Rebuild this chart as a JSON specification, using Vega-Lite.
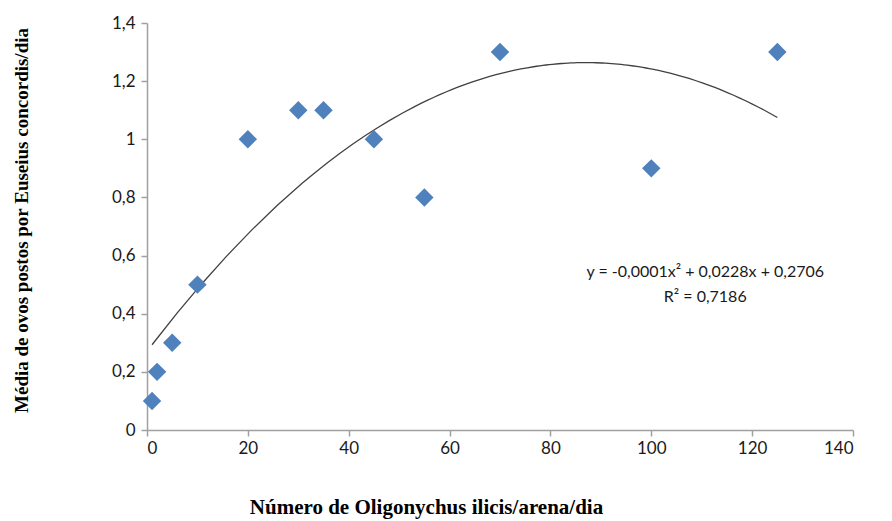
{
  "$schema": "https://vega.github.io/schema/vega-lite/v6.json",
  "width": 706,
  "height": 407,
  "autosize": {"type": "none"},
  "padding": {"left": 147, "top": 23, "right": 39, "bottom": 91},
  "background": "white",
  "config": {"view": {"stroke": null}},
  "datasets": {
    "pts": [
      {"x": 1, "y": 0.1},
      {"x": 2, "y": 0.2},
      {"x": 5, "y": 0.3},
      {"x": 10, "y": 0.5},
      {"x": 20, "y": 1.0},
      {"x": 30, "y": 1.1},
      {"x": 35, "y": 1.1},
      {"x": 45, "y": 1.0},
      {"x": 55, "y": 0.8},
      {"x": 70, "y": 1.3},
      {"x": 100, "y": 0.9},
      {"x": 125, "y": 1.3}
    ],
    "eq": [
      {"x": 110.7, "y": 0.543, "label": "y = -0,0001x² + 0,0228x + 0,2706"},
      {"x": 110.7, "y": 0.457, "label": "R² = 0,7186"}
    ]
  },
  "layer": [
    {
      "data": {"name": "pts"},
      "transform": [{"regression": "y", "on": "x", "method": "poly", "order": 2}],
      "mark": {"type": "line", "color": "#404040", "strokeWidth": 1.3},
      "encoding": {
        "x": {
          "field": "x", "type": "quantitative",
          "scale": {"domain": [0, 140], "nice": false, "zero": false},
          "axis": {
            "values": [0, 20, 40, 60, 80, 100, 120, 140],
            "grid": false,
            "domainColor": "#a0a0a0", "domainWidth": 1.5,
            "tickColor": "#a0a0a0", "tickSize": 6, "tickWidth": 1.5,
            "labelFont": "Lato", "labelFontSize": 17, "labelColor": "#1a1a1a",
            "labelPadding": 4,
            "labelExpr": "replace(format(datum.value, ''), '.', ',')",
            "title": "Número de Oligonychus ilicis/arena/dia",
            "titleFont": "Liberation Serif", "titleFontSize": 21, "titleFontWeight": "bold",
            "titleColor": "#000000",
            "titleX": 279, "titleY": 66
          }
        },
        "y": {
          "field": "y", "type": "quantitative",
          "scale": {"domain": [0, 1.4], "nice": false},
          "axis": {
            "values": [0, 0.2, 0.4, 0.6, 0.8, 1, 1.2, 1.4],
            "grid": false,
            "domainColor": "#a0a0a0", "domainWidth": 1.5,
            "tickColor": "#a0a0a0", "tickSize": 6, "tickWidth": 1.5,
            "labelFont": "Lato", "labelFontSize": 17, "labelColor": "#1a1a1a",
            "labelPadding": 6,
            "labelExpr": "replace(format(datum.value, ''), '.', ',')",
            "title": "Média de ovos postos por Euseius concordis/dia",
            "titleFont": "Liberation Serif", "titleFontSize": 19, "titleFontWeight": "bold",
            "titleColor": "#000000",
            "titleX": -116, "titleY": 197
          }
        }
      }
    },
    {
      "data": {"name": "pts"},
      "mark": {"type": "point", "shape": "diamond", "filled": true, "color": "#4f81bd", "opacity": 1, "size": 340},
      "encoding": {
        "x": {"field": "x", "type": "quantitative"},
        "y": {"field": "y", "type": "quantitative"}
      }
    },
    {
      "data": {"name": "eq"},
      "mark": {"type": "text", "font": "Lato", "fontSize": 16, "color": "#1a1a1a", "align": "center", "baseline": "middle"},
      "encoding": {
        "x": {"field": "x", "type": "quantitative"},
        "y": {"field": "y", "type": "quantitative"},
        "text": {"field": "label"}
      }
    }
  ]
}
